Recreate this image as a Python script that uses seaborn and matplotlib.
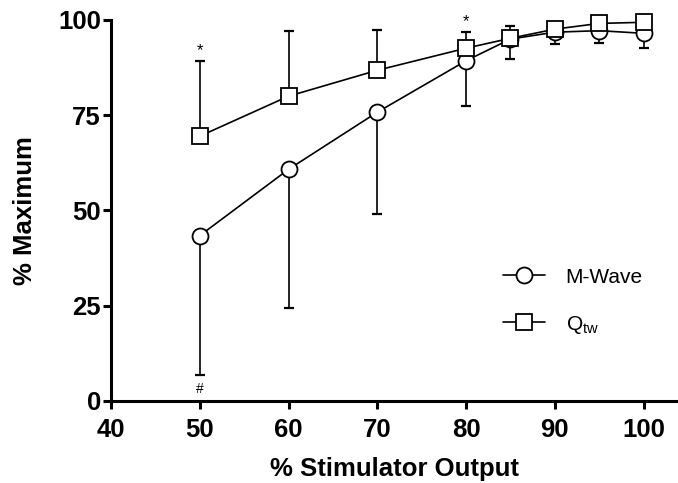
import matplotlib
matplotlib.use('Agg')
import matplotlib.pyplot as plt
import pandas as pd
import seaborn as sns
import numpy as np

# Data
stim = [50, 60, 70, 80, 85, 90, 95, 100]
mwave = [43.4, 60.8, 75.8, 89.3, 95.0, 96.8, 97.2, 96.5]
mwave_sd = [36.6, 36.3, 26.8, 11.9, 5.3, 3.1, 3.2, 3.9]   # drawn downward
qtw = [69.5, 80.0, 86.8, 92.6, 95.2, 97.6, 99.1, 99.4]
qtw_sd = [19.7, 17.0, 10.6, 4.2, 3.2, 0.0, 0.0, 0.0]      # drawn upward
series_names = ['M-Wave', r'Q$_{\mathregular{tw}}$']

# Significance marks
star_x = [50, 80]
star_y = [92.0, 99.6]
hash_x = [50]
hash_y = [3.2]

df = pd.DataFrame({
    'stim': stim * 2,
    'value': mwave + qtw,
    'series': [series_names[0]] * len(stim) + [series_names[1]] * len(stim),
})

sns.set_style('ticks')
plt.rcParams['font.family'] = ['Liberation Sans', 'DejaVu Sans']
plt.rcParams['mathtext.fontset'] = 'custom'
plt.rcParams['mathtext.rm'] = 'Liberation Sans'
plt.rcParams['mathtext.it'] = 'Liberation Sans'
plt.rcParams['text.color'] = 'black'
plt.rcParams['axes.labelcolor'] = 'black'
plt.rcParams['xtick.color'] = 'black'
plt.rcParams['ytick.color'] = 'black'
plt.rcParams['axes.edgecolor'] = 'black'

fig = plt.figure(figsize=(6.78, 4.83), dpi=100)
ax = fig.add_axes([0.1637, 0.1698, 0.8353, 0.7888])

# Error bars (one-sided)
ax.errorbar(stim, mwave, yerr=[mwave_sd, [0] * len(stim)], fmt='none', ecolor='black',
            elinewidth=1.2, capsize=3.4, capthick=1.6, zorder=1, clip_on=False)
ax.errorbar(stim, qtw, yerr=[[0] * len(stim), qtw_sd], fmt='none', ecolor='black',
            elinewidth=1.2, capsize=3.4, capthick=1.6, zorder=1, clip_on=False)

sns.lineplot(data=df, x='stim', y='value', style='series', markers=['o', 's'], dashes=False,
             color='black', linewidth=1.2, markersize=11.5, markerfacecolor='white',
             markeredgecolor='black', markeredgewidth=1.3, ax=ax, zorder=3, clip_on=False)

for x, y in zip(star_x, star_y):
    ax.text(x, y, '*', ha='center', va='center', fontsize=12)
for x, y in zip(hash_x, hash_y):
    ax.text(x, y, '#', ha='center', va='center', fontsize=10)

ax.set_xlim(40, 103.8)
ax.set_ylim(0, 100)
ax.set_xticks([40, 50, 60, 70, 80, 90, 100])
ax.set_yticks([0, 25, 50, 75, 100])
ax.tick_params(axis='both', width=2.2, length=5.8, labelsize=18.5)
ax.tick_params(axis='x', pad=6.5)
ax.tick_params(axis='y', pad=1.5)
for lab in ax.get_xticklabels() + ax.get_yticklabels():
    lab.set_fontweight('bold')
for s in ['left', 'bottom']:
    ax.spines[s].set_linewidth(2.2)
sns.despine(ax=ax)

ax.set_xlabel('% Stimulator Output', fontsize=18.5, fontweight='bold', labelpad=11)
ax.set_ylabel('% Maximum', fontsize=18.5, fontweight='bold', labelpad=15)

ax.legend(title=None, frameon=False, fontsize=15, loc='upper left',
          bbox_to_anchor=(0.6926, 0.35), borderpad=0, borderaxespad=0,
          handlelength=2.0, handletextpad=1.0, labelspacing=1.3)

fig.savefig('out.png', dpi=100)
